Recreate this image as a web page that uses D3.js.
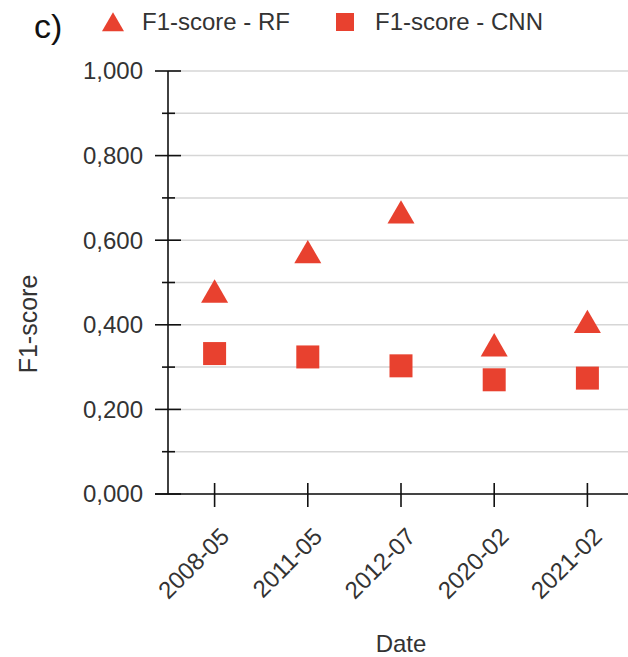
<!DOCTYPE html>
<html>
<head>
<meta charset="utf-8">
<script src="https://cdn.jsdelivr.net/npm/d3@7"></script>
<style>
  body { margin: 0; background: #fff; }
  svg { font-family: "Liberation Sans", Arial, sans-serif; }
</style>
</head>
<body>
<div id="chart"></div>
<script>
const width = 628;
const height = 657;
const margin = {top: 71, right: -6, bottom: 163, left: 168};

// Data
const dates = ["2008-05", "2011-05", "2012-07", "2020-02", "2021-02"];
const rfScores = [0.480, 0.573, 0.667, 0.353, 0.408];
const cnnScores = [0.332, 0.324, 0.303, 0.270, 0.274];
const majorTicks = [0, 0.2, 0.4, 0.6, 0.8, 1.0];
const minorTicks = [0.1, 0.3, 0.5, 0.7, 0.9];
const red = "#e8412f";
const textColor = "#333";

const svg = d3.select("#chart")
    .append("svg")
    .attr("width", width)
    .attr("height", height);

const x = d3.scaleBand()
    .domain(dates)
    .range([margin.left, width - margin.right]);

const y = d3.scaleLinear()
    .domain([0, 1])
    .range([height - margin.bottom, margin.top]);

const cx = d => x(d) + x.bandwidth() / 2;
const fmt = d => d3.format(".3f")(d).replace(".", ",");

// Gridlines every 0.1
svg.append("g")
    .selectAll("line")
    .data(majorTicks.concat(minorTicks))
    .join("line")
    .attr("x1", margin.left)
    .attr("x2", width)
    .attr("y1", d => y(d))
    .attr("y2", d => y(d))
    .attr("stroke", "#d6d6d6")
    .attr("stroke-width", 1.5);

// Y axis with crossing ticks
const yAxis = svg.append("g").attr("stroke", "#111").attr("stroke-width", 1.6);
yAxis.append("line")
    .attr("x1", margin.left).attr("x2", margin.left)
    .attr("y1", y(1)).attr("y2", y(0));
yAxis.selectAll(".major")
    .data(majorTicks)
    .join("line")
    .attr("class", "major")
    .attr("x1", margin.left - 13).attr("x2", margin.left + 13)
    .attr("y1", d => y(d)).attr("y2", d => y(d));
yAxis.selectAll(".minor")
    .data(minorTicks)
    .join("line")
    .attr("class", "minor")
    .attr("x1", margin.left - 6).attr("x2", margin.left + 7)
    .attr("y1", d => y(d)).attr("y2", d => y(d));

svg.append("g")
    .selectAll("text")
    .data(majorTicks)
    .join("text")
    .attr("x", 143)
    .attr("y", d => y(d))
    .attr("dy", "0.35em")
    .attr("text-anchor", "end")
    .attr("font-size", 24)
    .attr("fill", textColor)
    .text(fmt);

// X axis
const xAxis = svg.append("g").attr("stroke", "#111").attr("stroke-width", 1.6);
xAxis.append("line")
    .attr("x1", margin.left - 13).attr("x2", width)
    .attr("y1", y(0)).attr("y2", y(0));
xAxis.selectAll(".tick")
    .data(dates)
    .join("line")
    .attr("class", "tick")
    .attr("x1", cx).attr("x2", cx)
    .attr("y1", y(0) - 11).attr("y2", y(0) + 13);

svg.append("g")
    .selectAll("text")
    .data(dates)
    .join("text")
    .attr("transform", d => `translate(${cx(d) + 16},${y(0) + 44}) rotate(-45)`)
    .attr("text-anchor", "end")
    .attr("font-size", 24)
    .attr("fill", textColor)
    .text(d => d);

// Axis titles
svg.append("text")
    .attr("x", 401)
    .attr("y", 652)
    .attr("text-anchor", "middle")
    .attr("font-size", 24)
    .attr("fill", textColor)
    .text("Date");

svg.append("text")
    .attr("transform", "translate(37,324) rotate(-90)")
    .attr("text-anchor", "middle")
    .attr("font-size", 25)
    .attr("fill", textColor)
    .text("F1-score");

// Points
const tri = d3.symbol().type(d3.symbolTriangle).size(316);
const sq = d3.symbol().type(d3.symbolSquare).size(529);

svg.append("g")
    .selectAll("path")
    .data(dates.map((d, i) => [d, rfScores[i]]))
    .join("path")
    .attr("d", tri)
    .attr("transform", d => `translate(${cx(d[0])},${y(d[1]) + 3.9})`)
    .attr("fill", red);

svg.append("g")
    .selectAll("path")
    .data(dates.map((d, i) => [d, cnnScores[i]]))
    .join("path")
    .attr("d", sq)
    .attr("transform", d => `translate(${cx(d[0])},${y(d[1])})`)
    .attr("fill", red);

// Panel label and legend
svg.append("text")
    .attr("x", 34).attr("y", 38)
    .attr("font-size", 34)
    .attr("fill", "#111")
    .text("c)");

const legend = svg.append("g");
legend.append("path")
    .attr("d", d3.symbol().type(d3.symbolTriangle).size(210))
    .attr("transform", "translate(113,25)")
    .attr("fill", red);
legend.append("text")
    .attr("x", 142).attr("y", 30)
    .attr("font-size", 24)
    .attr("fill", textColor)
    .text("F1-score - RF");
legend.append("rect")
    .attr("x", 336).attr("y", 13)
    .attr("width", 18).attr("height", 18)
    .attr("fill", red);
legend.append("text")
    .attr("x", 375).attr("y", 30)
    .attr("font-size", 24)
    .attr("fill", textColor)
    .text("F1-score - CNN");
</script>
</body>
</html>
